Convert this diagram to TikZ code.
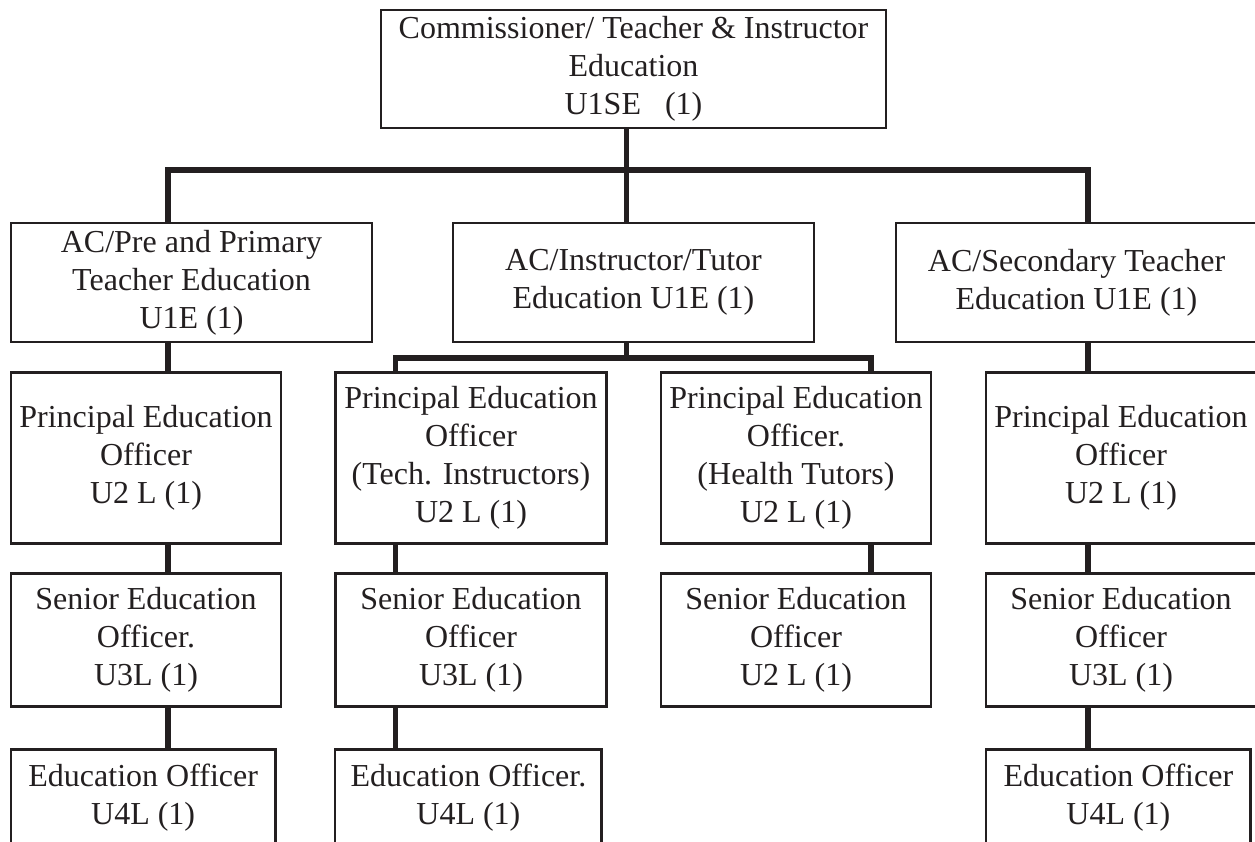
\documentclass[tikz,border=0pt]{standalone}
\usepackage{fontspec}
\setmainfont{Liberation Serif}
\definecolor{ink}{HTML}{231F20}
\begin{document}
\begin{tikzpicture}[x=1pt,y=-1pt,
  box/.style={draw=ink, line width=2.6pt, rectangle, inner sep=0pt, align=center,
    text=ink, font=\fontsize{32}{38}\selectfont},
  link/.style={draw=ink, line width=5.2pt}]
\useasboundingbox (0,0) rectangle (1255,841);
\clip (0,0) rectangle (1255,841);
% level 0
\node[box, minimum width=505pt, minimum height=118pt] (top) at (633.5,69)
  {Commissioner/ Teacher \& Instructor\\Education\\U1SE\ \ \ (1)};
% level 1
\node[box, minimum width=361pt, minimum height=119pt] (ac1) at (191.5,282.5)
  {AC/Pre and Primary\\Teacher Education\\U1E (1)};
\node[box, minimum width=361pt, minimum height=119pt] (ac2) at (633.5,282.5)
  {AC/Instructor/Tutor\\Education U1E (1)};
\node[box, minimum width=361pt, minimum height=119pt] (ac3) at (1076.5,282.5)
  {AC/Secondary Teacher\\Education U1E (1)};
% level 2
\node[box, minimum width=270pt, minimum height=170.6pt] (p1) at (146,458)
  {Principal Education\\Officer\\U2 L (1)};
\node[box, minimum width=271pt, minimum height=170.6pt] (p2) at (471,458)
  {Principal Education\\Officer\\(Tech. Instructors)\\U2 L (1)};
\node[box, minimum width=270pt, minimum height=170.6pt] (p3) at (796,458)
  {Principal Education\\Officer.\\(Health Tutors)\\U2 L (1)};
\node[box, minimum width=270pt, minimum height=170.6pt] (p4) at (1121,458)
  {Principal Education\\Officer\\U2 L (1)};
% level 3
\node[box, minimum width=270pt, minimum height=133.4pt] (s1) at (146,640)
  {Senior Education\\Officer.\\U3L (1)};
\node[box, minimum width=271pt, minimum height=133.4pt] (s2) at (471,640)
  {Senior Education\\Officer\\U3L (1)};
\node[box, minimum width=270pt, minimum height=133.4pt] (s3) at (796,640)
  {Senior Education\\Officer\\U2 L (1)};
\node[box, minimum width=270pt, minimum height=133.4pt] (s4) at (1121,640)
  {Senior Education\\Officer\\U3L (1)};
% level 4
\node[box, minimum width=264.3pt, minimum height=97.4pt] (e1) at (143.2,798)
  {Education Officer\\U4L (1)};
\node[box, minimum width=266.7pt, minimum height=97.4pt] (e2) at (468.4,798)
  {Education Officer.\\U4L (1)};
\node[box, minimum width=264.7pt, minimum height=97.4pt] (e4) at (1118.4,798)
  {Education Officer\\U4L (1)};
% column positions for connectors
\coordinate (x1) at (168,0);
\coordinate (xm) at (626.5,0);
\coordinate (x4) at (1088,0);
\coordinate (x2) at (395.5,0);
\coordinate (x3) at (871,0);
\coordinate (bar1) at (626.5,170);
\coordinate (bar2) at (626.5,358);
% connectors
\draw[link] (top.south -| xm) -- (bar1);
\draw[link] (ac1.north -| x1) |- (bar1) -| (ac3.north -| x4);
\draw[link] (bar1) -- (ac2.north -| xm);
\draw[link] (ac2.south -| xm) -- (bar2);
\draw[link] (p2.north -| x2) |- (bar2) -| (p3.north -| x3);
\draw[link] (ac1.south -| x1) -- (p1.north -| x1);
\draw[link] (p1.south -| x1) -- (s1.north -| x1);
\draw[link] (s1.south -| x1) -- (e1.north -| x1);
\draw[link] (p2.south -| x2) -- (s2.north -| x2);
\draw[link] (s2.south -| x2) -- (e2.north -| x2);
\draw[link] (p3.south -| x3) -- (s3.north -| x3);
\draw[link] (ac3.south -| x4) -- (p4.north -| x4);
\draw[link] (p4.south -| x4) -- (s4.north -| x4);
\draw[link] (s4.south -| x4) -- (e4.north -| x4);
\end{tikzpicture}
\end{document}
